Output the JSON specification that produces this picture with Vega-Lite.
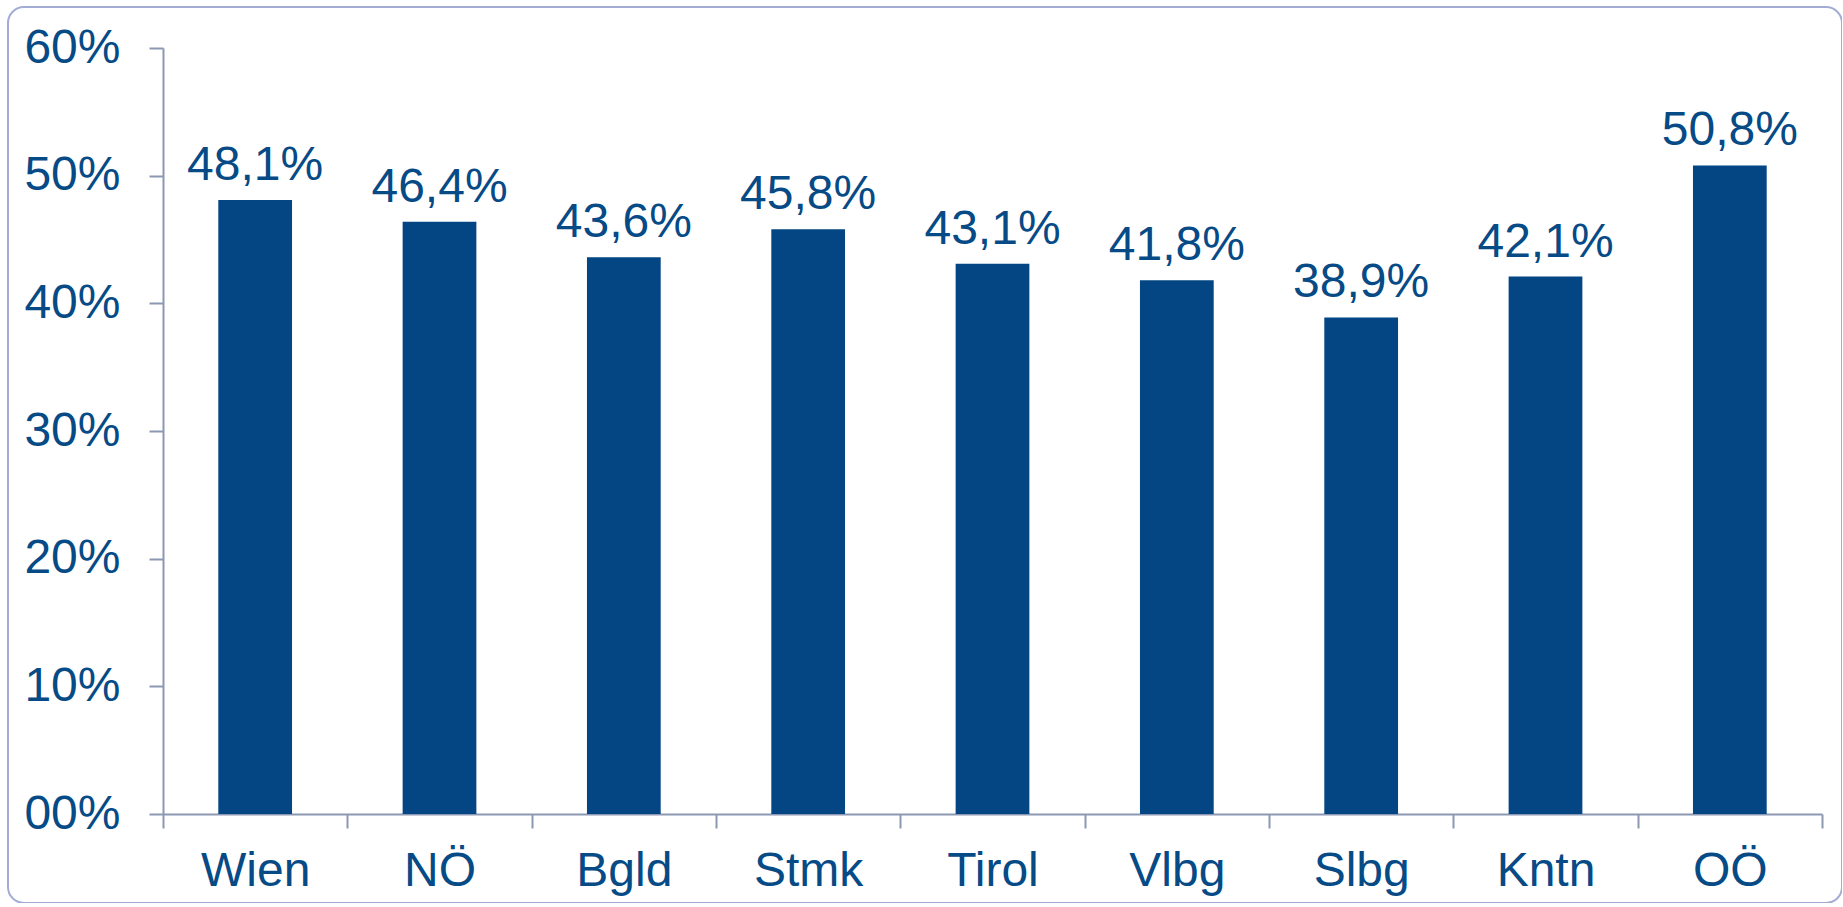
{
  "$schema": "https://vega.github.io/schema/vega-lite/v6.json",
  "autosize": {"type": "none"},
  "padding": {"left": 8, "top": 7, "right": 0, "bottom": 0},
  "width": 1834,
  "height": 896,
  "background": "white",
  "data": {
    "values": [
      {"region": "Wien", "share": 0.481},
      {"region": "NÖ", "share": 0.464},
      {"region": "Bgld", "share": 0.436},
      {"region": "Stmk", "share": 0.458},
      {"region": "Tirol", "share": 0.431},
      {"region": "Vlbg", "share": 0.418},
      {"region": "Slbg", "share": 0.389},
      {"region": "Kntn", "share": 0.421},
      {"region": "OÖ", "share": 0.508}
    ]
  },
  "encoding": {
    "x": {
      "field": "region",
      "type": "nominal",
      "sort": null,
      "scale": {"range": [155, 1814], "paddingInner": 0, "paddingOuter": 0},
      "axis": {
        "title": null,
        "labelAngle": 0,
        "tickBand": "extent",
        "tickSize": 14,
        "tickColor": "#8c97b2",
        "tickWidth": 2,
        "domainColor": "#8c97b2",
        "domainWidth": 2,
        "labelFont": "Liberation Sans",
        "labelFontSize": 48,
        "labelColor": "#064a86",
        "labelPadding": 19,
        "offset": -89,
        "grid": false
      }
    },
    "y": {
      "field": "share",
      "type": "quantitative",
      "scale": {"domain": [0, 0.6], "range": [807, 41], "nice": false, "zero": true},
      "axis": {
        "title": null,
        "values": [0, 0.1, 0.2, 0.3, 0.4, 0.5, 0.6],
        "format": ".0%",
        "labelExpr": "datum.value == 0 ? '00%' : datum.label",
        "tickSize": 14,
        "tickColor": "#8c97b2",
        "tickWidth": 2,
        "domainColor": "#8c97b2",
        "domainWidth": 2,
        "labelFont": "Liberation Sans",
        "labelFontSize": 48,
        "labelColor": "#064a86",
        "labelPadding": 29,
        "offset": -155,
        "grid": false
      }
    }
  },
  "layer": [
    {
      "mark": {"type": "bar", "color": "#034683", "width": {"band": 0.4}}
    },
    {
      "mark": {
        "type": "text",
        "font": "Liberation Sans",
        "fontSize": 48,
        "color": "#064a86",
        "baseline": "alphabetic",
        "dy": -20
      },
      "encoding": {
        "text": {"field": "share", "type": "quantitative", "format": ".1%"}
      }
    }
  ],
  "config": {
    "locale": {
      "number": {"decimal": ",", "thousands": ".", "grouping": [3], "currency": ["", " €"]}
    },
    "view": {"stroke": "#a3acd4", "strokeWidth": 2, "cornerRadius": 16}
  }
}
